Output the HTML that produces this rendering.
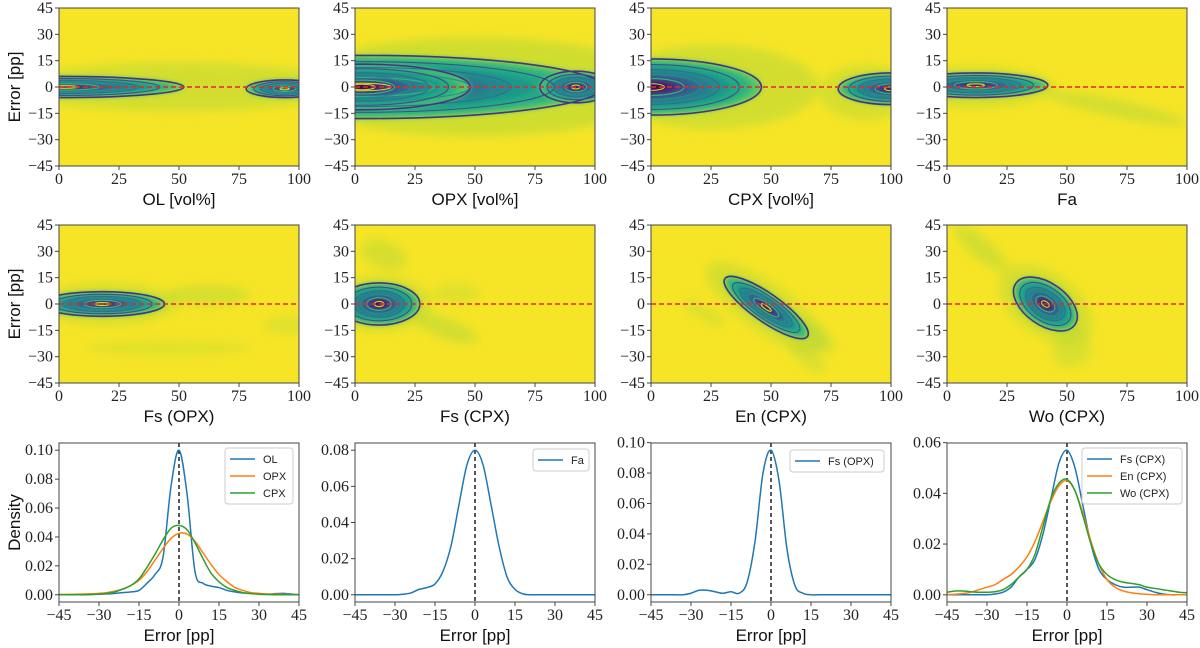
<!DOCTYPE html>
<html><head><meta charset="utf-8"><style>
html,body{margin:0;padding:0;background:#fff;}
svg{display:block;}
.tk{font-family:"Liberation Serif",serif;font-size:16px;fill:#222;}
.lb{font-family:"Liberation Sans",sans-serif;font-size:17px;fill:#111;}
.lg{font-family:"Liberation Sans",sans-serif;font-size:11px;fill:#222;}
</style></head><body>
<svg id="fig" width="1200" height="648" viewBox="0 0 1200 648" xmlns="http://www.w3.org/2000/svg">
<defs>
<filter id="blur" x="-50%" y="-50%" width="200%" height="200%"><feGaussianBlur stdDeviation="5"/></filter>
<filter id="blur2" x="-50%" y="-50%" width="200%" height="200%"><feGaussianBlur stdDeviation="2.5"/></filter>
</defs>
</svg>
<script>
// ---------- data ----------
const colX=[59,355,651,947], PW=240;
const rowY=[8,225,443], PH=158;
const heatLabels=["OL [vol%]","OPX [vol%]","CPX [vol%]","Fa","Fs (OPX)","Fs (CPX)","En (CPX)","Wo (CPX)"];
const heatXTicks=[0,25,50,75,100];
const heatYTicks=[-45,-30,-15,0,15,30,45];
// core blobs: [cx, cy, rx, ry, angleDeg] in data units (x 0-100, y error pp)
const heatCores=[
 [[2,0,50,6,0],[94,-1,16,5,0]],
 [[3,0,100,18,0],[3,0,45,13,0],[92,0,15,9,0]],
 [[0,0,46,16,0],[100,-1,22,9,0]],
 [[12,1,30,7,0]],
 [[18,0,26,7,0]],
 [[10,0,17,12,0]],
 [[48,-2,21,8,35]],
 [[41,0,15,12,35]]
];
// faint background glows: [cx, cy, rx, ry, angleDeg, opacity]
const heatGlows=[
 [[50,0,70,14,0,.45]],
 [[50,0,80,28,0,.5]],
 [[25,0,45,24,0,.45],[90,-3,20,16,0,.4]],
 [[10,0,35,12,0,.4],[70,-12,30,5,12,.45]],
 [[20,0,30,12,0,.4],[62,5,18,6,0,.4],[45,-25,35,4,0,.3],[95,-12,10,5,0,.3]],
 [[12,28,10,8,20,.4],[38,-14,14,6,20,.45],[42,6,10,6,0,.3],[10,0,22,16,0,.4]],
 [[22,-5,10,4,30,.35],[65,-30,10,5,40,.35],[68,-18,10,6,35,.4],[48,-2,30,14,35,.4]],
 [[14,32,14,6,40,.45],[52,-25,8,12,35,.35],[41,0,22,18,35,.4]]
];
// KDE panels
const kdeX=[-45,-42,-39,-36,-33,-30,-27,-24,-21,-18,-15,-12,-9,-6,-3,0,3,6,9,12,15,18,21,24,27,30,33,36,39,42,45];
const olDens=[0,0,0,0,.0002,.0004,.0006,.001,.0015,.002,.003,.008,.014,.026,.075,.1,.07,.016,.008,.006,.005,.003,.002,.0012,.001,.0005,.0003,.0008,.001,.0005,0];
const opxDens=[.0003,.0003,.0004,.0005,.0007,.001,.0015,.0025,.004,.0065,.01,.016,.024,.032,.039,.0425,.042,.037,.029,.021,.014,.009,.005,.003,.0015,.001,.0006,.0004,.0003,.0002,.0002];
const cpxDens=[0,0,0,0,.0002,.0005,.001,.002,.004,.0065,.011,.019,.028,.038,.046,.048,.045,.036,.025,.015,.009,.005,.003,.0015,.0008,.0004,.0002,0,0,0,0];
const faDens=[0,0,0,0,0,0,.0003,.001,.003,.004,.006,.013,.027,.05,.072,.08,.072,.05,.027,.01,.003,.0005,0,0,0,0,0,0,0,0,0];
const fsOpxDens=[0,0,0,0,0,.001,.003,.003,.002,.001,.002,.001,.008,.035,.08,.095,.075,.03,.006,.001,0,0,0,0,0,0,0,0,0,0,0];
const fsCpxDens=[0,0,0,0,0,0,.0003,.001,.003,.007,.01,.014,.024,.038,.052,.057,.05,.035,.02,.01,.006,.004,.003,.003,.003,.002,.001,.0003,0,0,0];
const enCpxDens=[0,.0002,.0005,.001,.002,.003,.004,.006,.008,.011,.015,.021,.029,.037,.043,.045,.041,.032,.021,.012,.006,.003,.0015,.0008,.0004,.0002,0,0,0,0,0];
const woCpxDens=[.001,.0015,.0015,.0012,.001,.001,.0012,.002,.004,.007,.01,.016,.027,.038,.044,.0455,.041,.031,.02,.012,.008,.006,.005,.0045,.004,.003,.0025,.002,.0015,.001,.0008];
const kdeXTicks=[-45,-30,-15,0,15,30,45];
const kdePanels=[
 {series:[["OL",olDens,"#1f77b4"],["OPX",opxDens,"#ff7f0e"],["CPX",cpxDens,"#2ca02c"]],ticks:[0,.02,.04,.06,.08,.10],legend:[225,448,68]},
 {series:[["Fa",faDens,"#1f77b4"]],ticks:[0,.02,.04,.06,.08],legend:[533,449,56]},
 {series:[["Fs (OPX)",fsOpxDens,"#1f77b4"]],ticks:[0,.02,.04,.06,.08,.10],legend:[790,450,94]},
 {series:[["Fs (CPX)",fsCpxDens,"#1f77b4"],["En (CPX)",enCpxDens,"#ff7f0e"],["Wo (CPX)",woCpxDens,"#2ca02c"]],ticks:[0,.02,.04,.06],legend:[1082,448,100]}
];
// ---------- drawing ----------
const NS="http://www.w3.org/2000/svg";
const fig=document.getElementById('fig');
const defs=fig.querySelector('defs');
function mk(tag,attrs,parent){const e=document.createElementNS(NS,tag);for(const k in attrs)e.setAttribute(k,attrs[k]);(parent||fig).appendChild(e);return e;}
const fills=['#52c569','#2fb47c','#22a884','#1f988b','#23888e','#2a788e','#33638d','#3e4989','#482878','#440154'];
const strokes=['#463480','#3b528b','#2c728e','#21918c','#35b779','#c8e020'];

for(let p=0;p<8;p++){
  const r=Math.floor(p/4), c=p%4, x0=colX[c], y0=rowY[r];
  const sx=v=>x0+v/100*PW, sy=v=>y0+(45-v)/90*PH;
  const clip=mk('clipPath',{id:'clip'+p},defs);
  mk('rect',{x:x0,y:y0,width:PW,height:PH},clip);
  const g=mk('g',{'clip-path':'url(#clip'+p+')'});
  
  
  mk('rect',{x:x0,y:y0,width:PW,height:PH,fill:'#f6e526'},g);
  const gg=mk('g',{filter:'url(#blur)'},g);
  heatGlows[p].forEach(b=>{
    const cx=sx(b[0]),cy=sy(b[1]);
    mk('ellipse',{cx:cx,cy:cy,rx:b[2]/100*PW,ry:b[3]/90*PH,transform:`rotate(${b[4]} ${cx} ${cy})`,fill:'#a8d53a',opacity:b[5]},gg);
  });
  const gc=mk('g',{filter:'url(#blur2)'},g);
  heatCores[p].forEach(b=>{
    const cx=sx(b[0]),cy=sy(b[1]);
    fills.forEach((f,i)=>{const s=1-i*0.095;
      mk('ellipse',{cx:cx,cy:cy,rx:b[2]/100*PW*s,ry:b[3]/90*PH*s,transform:`rotate(${b[4]} ${cx} ${cy})`,fill:f},gc);});
  });
  heatCores[p].forEach(b=>{
    const cx=sx(b[0]),cy=sy(b[1]);
    [1,.8,.62,.45,.3,.12].forEach((s,i)=>{
      mk('ellipse',{cx:cx,cy:cy,rx:b[2]/100*PW*s,ry:b[3]/90*PH*s,transform:`rotate(${b[4]} ${cx} ${cy})`,fill:'none',stroke:strokes[i],'stroke-width':i==0?1.6:1.1},g);});
  });
  const zl=mk('line',{x1:x0,x2:x0+PW,y1:sy(0),y2:sy(0),stroke:'#e8262b','stroke-width':1.4,'stroke-dasharray':'5,3'});
  
  
  const fr=mk('rect',{x:x0,y:y0,width:PW,height:PH,fill:'none',stroke:'#444','stroke-width':1});
  
  
  heatXTicks.forEach(t=>{
    mk('line',{x1:sx(t),x2:sx(t),y1:y0+PH,y2:y0+PH+4,stroke:'#444'});
    const tx=mk('text',{x:sx(t),y:y0+PH+18,'text-anchor':'middle',class:'tk'});tx.textContent=t;
    
    
  });
  heatYTicks.forEach(t=>{
    mk('line',{x1:x0-4,x2:x0,y1:sy(t),y2:sy(t),stroke:'#444'});
    const tx=mk('text',{x:x0-6,y:sy(t)+5,'text-anchor':'end',class:'tk'});tx.textContent=t<0?'\u2212'+(-t):t;
    
    
  });
  const xl=mk('text',{x:x0+PW/2,y:y0+PH+39,'text-anchor':'middle',class:'lb'});xl.textContent=heatLabels[p];
  
  
  if(c==0){const yl=mk('text',{x:0,y:0,'text-anchor':'middle',class:'lb',transform:`translate(20 ${y0+PH/2}) rotate(-90)`});yl.textContent='Error [pp]';
    
    }
}

function smoothPath(pts){
  let d=`M${pts[0][0]},${pts[0][1]}`;
  for(let i=0;i<pts.length-1;i++){
    const p0=pts[Math.max(0,i-1)],p1=pts[i],p2=pts[i+1],p3=pts[Math.min(pts.length-1,i+2)];
    const c1=[p1[0]+(p2[0]-p0[0])/6,p1[1]+(p2[1]-p0[1])/6],c2=[p2[0]-(p3[0]-p1[0])/6,p2[1]-(p3[1]-p1[1])/6];
    d+=`C${c1[0]},${c1[1]} ${c2[0]},${c2[1]} ${p2[0]},${p2[1]}`;
  }
  return d;
}
kdePanels.forEach((kp,c)=>{
  const x0=colX[c], y0=rowY[2], H=159;
  let peak=0;kp.series.forEach(s=>s[1].forEach(v=>{if(v>peak)peak=v;}));
  const ymin=-0.05*peak, ymax=1.05*peak;
  const sx=v=>x0+(v+45)/90*PW, sy=v=>y0+(ymax-v)/(ymax-ymin)*H;
  const clip=mk('clipPath',{id:'kclip'+c},defs);
  mk('rect',{x:x0,y:y0,width:PW,height:H},clip);
  const g=mk('g',{'clip-path':'url(#kclip'+c+')'});
  
  
  const zl=mk('line',{x1:sx(0),x2:sx(0),y1:y0,y2:y0+H,stroke:'#111','stroke-width':1.4,'stroke-dasharray':'4,3'},g);
  
  
  kp.series.forEach(s=>{
    const pts=kdeX.map((x,i)=>[sx(x),sy(s[1][i])]);
    const pa=mk('path',{d:smoothPath(pts),fill:'none',stroke:s[2],'stroke-width':1.5},g);
    
    
  });
  const fr=mk('rect',{x:x0,y:y0,width:PW,height:H,fill:'none',stroke:'#444'});
  
  
  kdeXTicks.forEach(t=>{
    mk('line',{x1:sx(t),x2:sx(t),y1:y0+H,y2:y0+H+4,stroke:'#444'});
    const tx=mk('text',{x:sx(t),y:y0+H+18,'text-anchor':'middle',class:'tk'});tx.textContent=t<0?'\u2212'+(-t):t;
    
    
  });
  kp.ticks.forEach(t=>{
    mk('line',{x1:x0-4,x2:x0,y1:sy(t),y2:sy(t),stroke:'#444'});
    const tx=mk('text',{x:x0-6,y:sy(t)+5,'text-anchor':'end',class:'tk'});tx.textContent=t.toFixed(2);
    
    
  });
  const xl=mk('text',{x:x0+PW/2,y:y0+H+39,'text-anchor':'middle',class:'lb'});xl.textContent='Error [pp]';
  
  
  if(c==0){const yl=mk('text',{x:0,y:0,'text-anchor':'middle',class:'lb',transform:`translate(20 ${y0+H/2}) rotate(-90)`});yl.textContent='Density';
    
    }
  const L=kp.legend;
  const lg=mk('g',{});
  
  
  mk('rect',{x:L[0],y:L[1],width:L[2],height:kp.series.length*17+5,rx:3,fill:'#fff',stroke:'#ccc'},lg);
  kp.series.forEach((s,i)=>{
    const yy=L[1]+11+i*17;
    mk('line',{x1:L[0]+5,x2:L[0]+30,y1:yy,y2:yy,stroke:s[2],'stroke-width':1.5},lg);
    const t=mk('text',{x:L[0]+38,y:yy+4,class:'lg'},lg);t.textContent=s[0];
    
    
  });
});
</script>
</body></html>
